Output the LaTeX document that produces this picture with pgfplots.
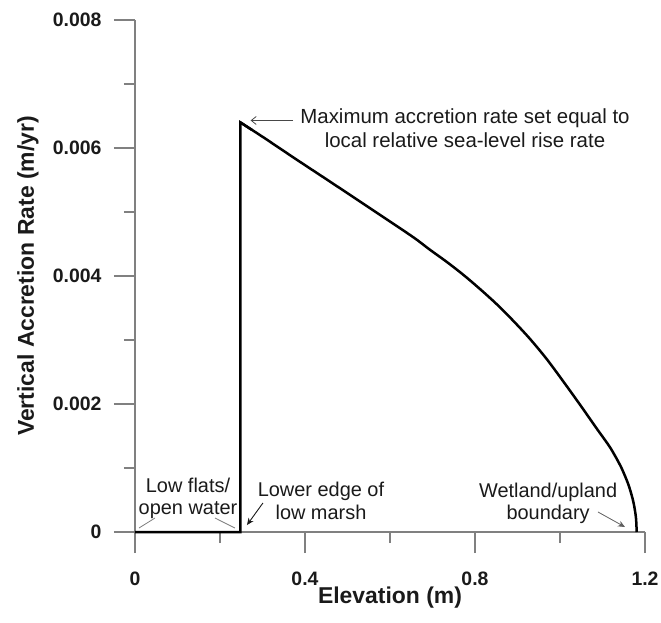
\documentclass[border=0pt]{standalone}
\usepackage{pgfplots}
\pgfplotsset{compat=1.18}
\usepackage{fontspec}
\setmainfont{Liberation Sans}
\usetikzlibrary{arrows.meta}
\definecolor{axgray}{HTML}{808080}
\definecolor{txt}{HTML}{1A1A1A}
\begin{document}
\begin{tikzpicture}
\begin{axis}[
  at={(0,0)}, anchor=origin,
  scale only axis, width=510bp, height=512bp,
  xmin=0, xmax=1.2, ymin=0, ymax=0.008,
  enlargelimits=false, clip=false,
  scaled x ticks=false, scaled y ticks=false,
  axis lines=left,
  axis line style={-, axgray, line width=1.1bp},
  tick style={axgray, line width=1.1bp},
  tick align=outside,
  major tick length=21bp, minor tick length=11bp,
  xtick={0,0.4,0.8,1.2}, xticklabels={0,0.4,0.8,1.2},
  minor xtick={0.2,0.6,1.0},
  ytick={0,0.002,0.004,0.006,0.008},
  yticklabels={0,0.002,0.004,0.006,0.008},
  minor ytick={0.001,0.003,0.005,0.007},
  /pgf/number format/assume math mode=true,
  ticklabel style={font=\fontsize{19.5}{22}\selectfont\bfseries, text=txt},
  yticklabel style={xshift=-9bp},
  xticklabel style={yshift=-15bp},
  xlabel={Elevation (m)},
  ylabel={Vertical Accretion Rate (m/yr)},
  label style={font=\fontsize{23}{26}\selectfont\bfseries, text=txt},
  xlabel style={at={(axis description cs:0.5,0)}, anchor=center, yshift=-66bp},
  ylabel style={at={(axis description cs:0,0.5)}, anchor=center, yshift=107bp},
]
\addplot[black, line width=2.5bp, line join=miter] coordinates {
 (0,0) (0.248,0) (0.248,0.0064) (0.275,0.006283)
};
\addplot[black, line width=2.5bp, smooth, tension=0.5] coordinates {
 (0.248,0.006400) (0.302,0.006167) (0.380,0.005820) (0.459,0.005474)
 (0.537,0.005130) (0.577,0.004953) (0.655,0.004605) (0.694,0.004410)
 (0.733,0.004223) (0.773,0.004016) (0.812,0.003795) (0.851,0.003560)
 (0.890,0.003300) (0.929,0.003020) (0.969,0.002700) (1.008,0.002350)
 (1.047,0.001990) (1.086,0.001620) (1.118,0.001320) (1.141,0.001050)
 (1.152,0.000890) (1.161,0.000740) (1.168,0.000590) (1.173,0.000460)
 (1.1765,0.000330) (1.179,0.000205) (1.1805,0)
};
\node[font=\fontsize{20.5}{24}\selectfont, text=txt, align=center] at (axis cs:0.7765,0.006313)
  {Maximum accretion rate set equal to\\local relative sea-level rise rate};
\draw[-{Straight Barb[length=5bp,width=8bp]}, line width=0.8bp, draw=txt!80] (axis cs:0.372,0.00643) -- (axis cs:0.272,0.00643);
\node[font=\fontsize{20}{22.5}\selectfont, text=txt, align=center] at (axis cs:0.1247,0.00053)
  {Low flats/\\open water};
\draw[line width=0.8bp, draw=axgray] (axis cs:0.0094,0.0000625) -- (axis cs:0.0471,0.00021875);
\draw[line width=0.8bp, draw=axgray] (axis cs:0.188,0.00021875) -- (axis cs:0.235,0.0000625);
\node[font=\fontsize{20}{22.5}\selectfont, text=txt, align=center] at (axis cs:0.4376,0.000484)
  {Lower edge of\\low marsh};
\draw[-{Stealth[length=7bp,width=6bp]}, line width=0.9bp, draw=txt] (axis cs:0.301,0.000453) -- (axis cs:0.2635,0.000109);
\node[font=\fontsize{20}{22.5}\selectfont, text=txt, align=center] at (axis cs:0.972,0.000445)
  {Wetland/upland\\boundary};
\draw[-{Stealth[length=7bp,width=6bp]}, line width=0.8bp, draw=txt!70] (axis cs:1.0894,0.0003125) -- (axis cs:1.1529,0.000078);
\end{axis}
\pgfresetboundingbox
\path (-135bp,-91bp) rectangle (526bp,532bp);
\end{tikzpicture}
\end{document}
